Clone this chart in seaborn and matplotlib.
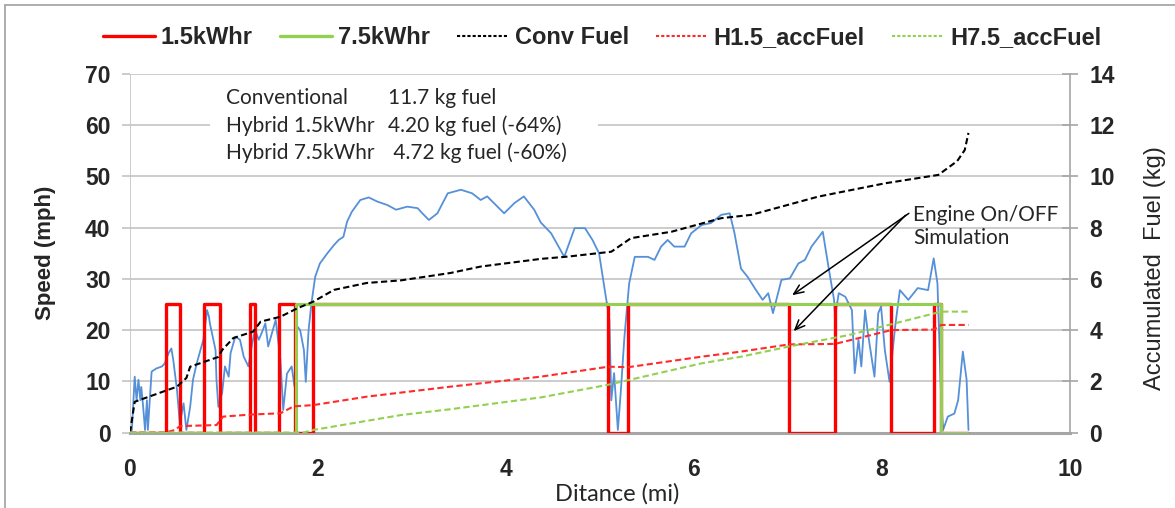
import matplotlib
matplotlib.use("Agg")
import matplotlib.pyplot as plt
from matplotlib.lines import Line2D
from matplotlib.patches import Rectangle
import seaborn as sns
import pandas as pd

# ---- speed trace (distance in miles, speed in mph) ----
dist_mi = [0.00, 0.02, 0.05, 0.07, 0.09, 0.11, 0.12, 0.14, 0.16, 0.18, 0.19, 0.23, 0.28, 0.34,
           0.37, 0.41, 0.44, 0.46, 0.50, 0.53, 0.57, 0.60, 0.64, 0.67, 0.71, 0.75, 0.78, 0.82,
           0.84, 0.85, 0.91, 0.92, 0.94, 0.98, 1.01, 1.05, 1.07, 1.12, 1.17, 1.21, 1.26, 1.30,
           1.33, 1.37, 1.40, 1.44, 1.47, 1.51, 1.55, 1.60, 1.63, 1.67, 1.72, 1.75, 1.78, 1.81,
           1.85, 1.87, 1.90, 1.93, 1.97, 2.02, 2.10, 2.17, 2.22, 2.27, 2.31, 2.36, 2.45, 2.54,
           2.63, 2.74, 2.83, 2.95, 3.06, 3.11, 3.18, 3.27, 3.38, 3.52, 3.64, 3.73, 3.80, 3.91,
           3.98, 4.09, 4.19, 4.30, 4.37, 4.48, 4.62, 4.73, 4.84, 4.92, 4.99, 5.04, 5.10, 5.12,
           5.15, 5.19, 5.22, 5.26, 5.31, 5.37, 5.51, 5.58, 5.65, 5.72, 5.79, 5.90, 5.97, 6.08,
           6.18, 6.29, 6.38, 6.43, 6.50, 6.57, 6.66, 6.73, 6.79, 6.84, 6.93, 7.02, 7.11, 7.18,
           7.25, 7.37, 7.43, 7.49, 7.50, 7.54, 7.61, 7.68, 7.71, 7.75, 7.78, 7.82, 7.85, 7.92,
           7.96, 7.99, 8.03, 8.08, 8.14, 8.19, 8.28, 8.38, 8.49, 8.55, 8.59, 8.63, 8.65, 8.70,
           8.77, 8.81, 8.86, 8.90, 8.92]
speed_mph = [0.0, 0.5, 10.9, 6.3, 10.3, 6.3, 8.9, 5.0, 0.5, 6.3, 0.5, 11.9, 12.5, 12.9,
             13.5, 15.5, 16.4, 14.2, 8.3, 1.8, 5.7, 0.5, 5.0, 10.3, 13.5, 16.1, 18.1, 23.9,
             22.6, 21.3, 16.1, 10.3, 5.0, 7.7, 12.9, 10.9, 15.5, 18.7, 18.1, 14.8, 12.9, 17.4,
             20.0, 18.1, 19.4, 21.3, 16.8, 19.4, 22.0, 14.2, 4.4, 11.5, 12.9, 9.0, 20.7, 20.0,
             16.1, 9.9, 20.0, 25.2, 30.4, 33.0, 35.0, 36.6, 37.6, 38.2, 41.2, 43.1, 45.4, 45.9,
             45.1, 44.4, 43.5, 44.1, 43.8, 42.8, 41.5, 42.8, 46.7, 47.4, 46.7, 45.4, 46.1, 44.1,
             42.8, 44.8, 46.1, 43.5, 41.0, 38.9, 34.3, 39.9, 39.9, 37.6, 35.0, 29.1, 22.0, 6.3,
             11.6, 0.5, 7.7, 18.7, 29.1, 34.3, 34.3, 33.7, 36.3, 37.6, 36.3, 36.3, 38.9, 40.5,
             40.9, 42.5, 42.8, 39.0, 32.0, 30.4, 27.8, 25.9, 27.2, 23.3, 29.8, 30.1, 33.0, 33.7,
             36.3, 39.2, 32.4, 25.9, 22.6, 27.2, 26.5, 23.9, 11.6, 18.1, 12.9, 23.9, 19.4, 10.9,
             23.3, 24.6, 16.1, 9.9, 20.7, 27.8, 25.9, 28.2, 27.8, 34.0, 29.1, 6.3, 0.5, 3.1,
             3.7, 6.3, 15.8, 10.3, 0.5]

# ---- engine on/off state (switch distances, level after switch, mph scale) ----
eng15_x = [0.00, 0.38, 0.53, 0.79, 0.96, 1.28, 1.33, 1.58, 1.76, 1.95, 5.09, 5.30,
           7.01, 7.50, 8.10, 8.55, 8.63, 8.92]
eng15_y = [0, 25, 0, 25, 0, 25, 0, 25, 0, 25, 0, 25, 0, 25, 0, 25, 0, 0]
eng75_x = [0.00, 1.77, 8.63, 8.92]
eng75_y = [0, 25, 0, 0]

# ---- accumulated fuel (kg) ----
conv_x = [0.00, 0.05, 0.50, 0.60, 0.64, 0.94, 0.98, 1.10, 1.31, 1.39, 1.60, 1.78, 1.95,
          2.17, 2.52, 2.88, 3.41, 3.73, 4.37, 4.66, 5.12, 5.33, 5.76, 6.29, 6.61, 7.32,
          8.03, 8.60, 8.80, 8.88, 8.92]
conv_kg = [0.00, 1.20, 1.79, 2.13, 2.57, 2.95, 3.22, 3.69, 3.94, 4.33, 4.52, 4.85, 5.11,
           5.57, 5.84, 5.94, 6.23, 6.48, 6.78, 6.87, 7.06, 7.59, 7.84, 8.37, 8.50, 9.21,
           9.73, 10.06, 10.60, 11.03, 11.70]
h15_x = [0.00, 0.38, 0.48, 0.53, 0.92, 0.99, 1.28, 1.60, 1.74, 1.95, 2.52, 3.41, 4.37,
         5.09, 5.30, 6.08, 6.50, 7.01, 7.50, 8.10, 8.55, 8.63, 8.92]
h15_kg = [0.00, 0.00, 0.10, 0.25, 0.29, 0.62, 0.70, 0.75, 1.02, 1.07, 1.40, 1.79, 2.18,
          2.57, 2.55, 2.96, 3.16, 3.44, 3.46, 4.00, 4.02, 4.20, 4.20]
h75_x = [0.00, 1.77, 1.85, 1.95, 2.88, 3.41, 4.16, 4.37, 5.08, 6.08, 6.50, 7.04, 7.64,
         8.07, 8.63, 8.92]
h75_kg = [0.00, 0.00, 0.00, 0.10, 0.68, 0.91, 1.27, 1.37, 1.86, 2.70, 2.96, 3.38, 3.80,
          4.20, 4.72, 4.72]

summary_rows = [("Conventional", "11.7 kg fuel"),
                ("Hybrid 1.5kWhr", "4.20 kg fuel (-64%)"),
                ("Hybrid 7.5kWhr", " 4.72 kg fuel (-60%)")]

legend_labels = ["1.5kWhr", "7.5kWhr", "Conv Fuel", "H1.5_accFuel", "H7.5_accFuel"]

sns.set_style("white")
ARIAL = ["Liberation Sans", "DejaVu Sans"]
CALIBRI = ["Lato", "DejaVu Sans"]
plt.rcParams["font.family"] = ARIAL

RED = "#FF0000"
GREEN = "#92D050"
BLUE = "#5590D8"
GRID = "#C4C4C4"
AXIS = "#A6A6A6"

fig = plt.figure(figsize=(11.75, 5.08), dpi=100)
ax = fig.add_axes([130 / 1175, 1 - 432.5 / 508, 940 / 1175, 358.5 / 508])
ax2 = ax.twinx()

speed_df = pd.DataFrame({"d": dist_mi, "v": speed_mph})
sns.lineplot(data=speed_df, x="d", y="v", ax=ax, color=BLUE, lw=1.3,
             estimator=None, sort=False, zorder=3)
sns.lineplot(x=eng15_x, y=eng15_y, ax=ax, color=RED, lw=2.4, drawstyle="steps-post",
             estimator=None, sort=False, zorder=4)
sns.lineplot(x=eng75_x, y=eng75_y, ax=ax, color=GREEN, lw=2.2, drawstyle="steps-post",
             estimator=None, sort=False, zorder=5)

dash = (0, (3, 1.6))
sns.lineplot(x=conv_x, y=conv_kg, ax=ax2, color="black", lw=1.5, linestyle=dash,
             estimator=None, sort=False)
sns.lineplot(x=h15_x, y=h15_kg, ax=ax2, color="#FF2B2B", lw=1.5, linestyle=dash,
             estimator=None, sort=False)
sns.lineplot(x=h75_x, y=h75_kg, ax=ax2, color=GREEN, lw=1.5, linestyle=dash,
             estimator=None, sort=False)

# axes ranges and ticks
ax.set_xlim(0, 10)
ax.set_ylim(0, 70)
ax2.set_ylim(0, 14)
ax.set_xticks(range(0, 11, 2))
ax.set_yticks(range(0, 71, 10))
ax2.set_yticks(range(0, 15, 2))

ax.yaxis.grid(True, color=GRID, lw=1.2, zorder=0)
ax.xaxis.grid(False)
ax.set_axisbelow(True)

for a in (ax, ax2):
    a.spines["top"].set_visible(False)
    a.spines["left"].set_visible(False)
ax.spines["right"].set_visible(False)
ax2.spines["bottom"].set_visible(False)
ax2.spines["right"].set_color(AXIS)
ax2.spines["right"].set_linewidth(1.2)
ax.spines["bottom"].set_color(AXIS)
ax.spines["bottom"].set_linewidth(2.2)
ax.axvline(0, color=GRID, lw=1.2, zorder=1)

ax.tick_params(axis="x", direction="out", length=6, width=1.2, color=AXIS, pad=12,
               labelsize=16.5)
ax.tick_params(axis="y", direction="out", length=6, width=1.2, color=GRID, pad=8,
               labelsize=16.5)
ax2.tick_params(axis="y", direction="inout", length=12, width=1.2, color=AXIS, pad=8,
                labelsize=16.5)
for lbl in ax.get_xticklabels() + ax.get_yticklabels() + ax2.get_yticklabels():
    lbl.set_fontweight("bold")

ax.set_xlabel("Ditance (mi)", fontsize=17, family=CALIBRI)
ax.xaxis.label.set_va("center")
ax.xaxis.set_label_coords((617 - 130) / 940, (432.5 - 494) / 358.5)
ax.set_ylabel("Speed (mph)", fontsize=16, fontweight="bold")
ax.yaxis.label.set_va("center")
ax.yaxis.set_label_coords((45 - 130) / 940, 0.5)
ax2.set_ylabel("Accumulated  Fuel (kg)", fontsize=17)
ax2.yaxis.label.set_va("center")
ax2.yaxis.set_label_coords((1155 - 130) / 940, 0.46)

# fuel summary block
ax.add_patch(Rectangle((0.085, 0.743), 0.413, 0.223, transform=ax.transAxes,
                       facecolor="white", edgecolor="none", zorder=2))
row_y = [0.933, 0.855, 0.780]
for (name, val), yy in zip(summary_rows, row_y):
    ax.text(0.102, yy, name, transform=ax.transAxes, fontsize=15, family=CALIBRI,
            va="center", ha="left", zorder=6)
    ax.text(0.2745, yy, val, transform=ax.transAxes, fontsize=15, family=CALIBRI,
            va="center", ha="left", zorder=6)

# engine on/off callout
ax.text(8.33, 40.3, "Engine On/OFF\nSimulation", fontsize=15, family=CALIBRI,
        va="center", ha="left", linespacing=1.2, zorder=6)
arrow = dict(arrowstyle="->,head_length=0.7,head_width=0.3", color="black", lw=1.1)
ax.annotate("", xy=(7.02, 26.5), xytext=(8.31, 43.1), arrowprops=arrow, zorder=6)
ax.annotate("", xy=(7.04, 19.4), xytext=(8.27, 42.8), arrowprops=arrow, zorder=6)

# legend across the top
handles = [Line2D([], [], color=RED, lw=2.4),
           Line2D([], [], color=GREEN, lw=2.4),
           Line2D([], [], color="black", lw=1.5, linestyle=(0, (1.5, 1))),
           Line2D([], [], color="#FF2B2B", lw=1.5, linestyle=(0, (1.5, 1))),
           Line2D([], [], color=GREEN, lw=1.5, linestyle=(0, (1.5, 1)))]
leg = fig.legend(handles, legend_labels, loc="center", ncol=5, frameon=False,
                 bbox_to_anchor=(602 / 1175, 1 - 38 / 508), handlelength=2.2,
                 handletextpad=0.25, columnspacing=1.15,
                 prop={"family": ARIAL, "weight": "bold", "size": 17})

# chart frame
fig.add_artist(Line2D([5 / 1175, 5 / 1175], [0, 1 - 5 / 508], color="#A0A0A0", lw=1.2,
                      transform=fig.transFigure))
fig.add_artist(Line2D([5 / 1175, 1], [1 - 5 / 508, 1 - 5 / 508], color="#A0A0A0", lw=1.2,
                      transform=fig.transFigure))

fig.savefig("out.png", dpi=100)
